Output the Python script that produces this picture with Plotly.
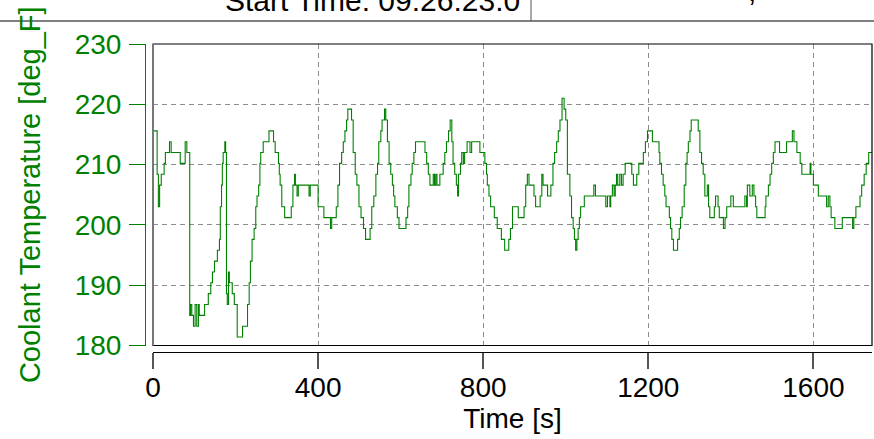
import plotly.graph_objects as go

# ---- data ----
time_s = [0, 10, 13, 16, 20, 27, 30, 40, 44, 66, 78, 82, 89, 91, 94, 98, 102, 106, 110, 112,
          125, 134, 140, 144, 149, 156, 161, 163, 166, 168, 170, 174, 176, 178, 180, 183, 185,
          192, 197, 204, 217, 229, 233, 236, 240, 245, 249, 252, 256, 259, 261, 267, 281, 292,
          296, 304, 306, 308, 312, 319, 335, 339, 343, 345, 349, 352, 378, 381, 400, 414, 430,
          433, 444, 448, 452, 457, 461, 465, 469, 472, 481, 485, 490, 494, 499, 504, 510, 515,
          526, 530, 535, 540, 544, 547, 552, 555, 561, 564, 568, 572, 576, 580, 583, 586, 592,
          596, 613, 617, 620, 625, 628, 632, 636, 659, 663, 667, 671, 679, 682, 685, 688, 695,
          703, 707, 711, 716, 720, 724, 727, 731, 735, 738, 740, 745, 748, 752, 755, 761, 768,
          772, 792, 804, 808, 810, 814, 818, 827, 834, 844, 852, 862, 866, 871, 885, 899, 903,
          907, 911, 923, 927, 938, 942, 945, 956, 964, 969, 973, 978, 982, 986, 991, 996, 1000,
          1004, 1010, 1014, 1018, 1021, 1024, 1027, 1030, 1033, 1036, 1045, 1068, 1072, 1097,
          1101, 1107, 1109, 1113, 1117, 1120, 1123, 1126, 1131, 1135, 1139, 1144, 1160, 1164,
          1172, 1177, 1188, 1193, 1198, 1210, 1226, 1228, 1232, 1236, 1240, 1243, 1251, 1254,
          1257, 1261, 1271, 1275, 1278, 1282, 1287, 1291, 1294, 1297, 1301, 1304, 1321, 1325,
          1329, 1333, 1337, 1343, 1346, 1349, 1360, 1363, 1369, 1372, 1382, 1386, 1390, 1400,
          1406, 1434, 1438, 1440, 1446, 1452, 1456, 1460, 1463, 1483, 1485, 1491, 1495, 1499,
          1503, 1507, 1518, 1535, 1549, 1553, 1560, 1568, 1572, 1592, 1594, 1600, 1612, 1632,
          1636, 1640, 1643, 1652, 1670, 1695, 1698, 1703, 1713, 1717, 1723, 1728, 1734, 1742]

coolant_temp_F = [215.6, 208.4, 203.0, 206.6, 208.4, 210.2, 212.0, 213.8, 212.0, 210.2, 213.8, 212.0,
                  185.0, 186.8, 185.0, 183.2, 186.8, 183.2, 186.8, 185.0, 186.8, 188.6, 190.4, 192.2,
                  194.0, 195.8, 197.6, 203.0, 206.6, 210.2, 212.0, 213.8, 212.0, 188.6, 186.8, 192.2,
                  190.4, 188.6, 186.8, 181.4, 183.2, 186.8, 190.4, 194.0, 197.6, 199.4, 203.0, 204.8,
                  206.6, 210.2, 212.0, 213.8, 215.6, 213.8, 212.0, 210.2, 208.4, 206.6, 203.0, 201.2,
                  203.0, 206.6, 208.4, 206.6, 204.8, 206.6, 204.8, 206.6, 203.0, 201.2, 199.4, 201.2,
                  203.0, 206.6, 210.2, 212.0, 213.8, 215.6, 217.4, 219.2, 217.4, 212.0, 208.4, 206.6,
                  203.0, 201.2, 199.4, 197.6, 199.4, 203.0, 204.8, 208.4, 210.2, 213.8, 215.6, 217.4,
                  219.2, 217.4, 213.8, 210.2, 208.4, 206.6, 204.8, 203.0, 201.2, 199.4, 201.2, 203.0,
                  206.6, 208.4, 210.2, 212.0, 213.8, 212.0, 210.2, 208.4, 206.6, 208.4, 206.6, 208.4,
                  206.6, 208.4, 210.2, 212.0, 213.8, 215.6, 217.4, 213.8, 210.2, 208.4, 206.6, 204.8,
                  208.4, 210.2, 212.0, 210.2, 212.0, 213.8, 212.0, 213.8, 212.0, 210.2, 208.4, 206.6,
                  204.8, 203.0, 201.2, 199.4, 197.6, 195.8, 197.6, 199.4, 203.0, 201.2, 203.0, 206.6,
                  208.4, 206.6, 204.8, 203.0, 204.8, 208.4, 206.6, 204.8, 206.6, 210.2, 212.0, 213.8,
                  215.6, 217.4, 221.0, 219.2, 217.4, 208.4, 204.8, 201.2, 199.4, 197.6, 195.8, 197.6,
                  199.4, 201.2, 203.0, 204.8, 206.6, 204.8, 203.0, 204.8, 203.0, 204.8, 206.6, 204.8,
                  206.6, 208.4, 206.6, 208.4, 206.6, 208.4, 210.2, 208.4, 206.6, 208.4, 210.2, 212.0,
                  213.8, 215.6, 213.8, 212.0, 210.2, 208.4, 206.6, 204.8, 203.0, 201.2, 199.4, 197.6,
                  195.8, 197.6, 199.4, 201.2, 203.0, 206.6, 210.2, 212.0, 213.8, 215.6, 217.4, 215.6,
                  212.0, 210.2, 208.4, 204.8, 206.6, 203.0, 201.2, 203.0, 204.8, 203.0, 201.2, 199.4,
                  201.2, 203.0, 204.8, 203.0, 204.8, 203.0, 206.6, 204.8, 206.6, 204.8, 203.0, 201.2,
                  203.0, 204.8, 206.6, 208.4, 210.2, 212.0, 213.8, 212.0, 213.8, 215.6, 213.8, 212.0,
                  210.2, 208.4, 210.2, 208.4, 206.6, 204.8, 203.0, 204.8, 203.0, 201.2, 199.4, 201.2,
                  199.4, 201.2, 203.0, 204.8, 206.6, 208.4, 210.2, 212.0, 212.0]

x_ticks = [0, 400, 800, 1200, 1600]
y_ticks = [180, 190, 200, 210, 220, 230]
header_text = "Start Time: 09:26:23.0"
x_title = "Time [s]"
y_title = "Coolant Temperature [deg_F]"

# ---- geometry (pixels) ----
W, H = 874, 439
ML, MR, MT, MB = 145, 2, 44, 87
PW, PH = W - ML - MR, H - MT - MB
def px_x(p):
    return (p - ML) / PW
def px_y(p):
    return (H - MB - p) / PH

FONT = "Arial, Liberation Sans, sans-serif"
GREEN = "#008000"

fig = go.Figure()
fig.add_trace(go.Scatter(x=time_s, y=coolant_temp_F, mode="lines", line_shape="hv",
                         line=dict(color=GREEN, width=1.1), showlegend=False))

xd0 = px_x(153)
yd0 = px_y(345.5)

fig.update_layout(
    width=W, height=H,
    margin=dict(l=ML, r=MR, t=MT, b=MB, autoexpand=False),
    paper_bgcolor="white", plot_bgcolor="white",
    font=dict(family=FONT, size=28, color="black"),
    xaxis=dict(domain=[xd0, 1], range=[0, 1742], anchor="free", position=0,
               tickvals=x_ticks, ticks="outside", ticklen=16, tickwidth=1.5, tickcolor="#555",
               showline=True, linecolor="black", linewidth=1.2,
               showgrid=True, gridcolor="#8c8c8c", griddash="5px,4px", gridwidth=1,
               zeroline=False, tickfont=dict(size=28, color="black"), ticklabelstandoff=-6,
               title=dict(text=x_title, font=dict(size=28, color="black"), standoff=6)),
    yaxis=dict(domain=[yd0, 1], range=[180, 230], anchor="free", position=0,
               tickvals=y_ticks, ticks="outside", ticklen=16, tickwidth=1.2, tickcolor=GREEN,
               showline=True, linecolor=GREEN, linewidth=1,
               showgrid=True, gridcolor="#8c8c8c", griddash="5px,4px", gridwidth=1,
               zeroline=False, tickfont=dict(size=28, color=GREEN), ticklabelstandoff=2,
               title=dict(text=y_title, font=dict(size=29, color=GREEN), standoff=24)),
)

shapes = [
    # plot frame
    dict(type="rect", xref="x domain", yref="y domain", x0=0, x1=1, y0=0, y1=1,
         line=dict(color="black", width=1.2), layer="above"),
    dict(type="line", xref="x domain", yref="y domain", x0=0, x1=0, y0=0, y1=1,
         line=dict(color="#777", width=2), layer="above"),
    # header box lines
    dict(type="line", xref="paper", yref="paper", x0=px_x(0), x1=px_x(W), y0=px_y(21), y1=px_y(21),
         line=dict(color="#808080", width=2)),
    dict(type="line", xref="paper", yref="paper", x0=px_x(531), x1=px_x(531), y0=px_y(21), y1=px_y(-2),
         line=dict(color="#555", width=1)),
]
fig.update_layout(shapes=shapes)

fig.add_annotation(text=header_text, xref="paper", yref="paper", x=px_x(372), y=px_y(0),
                   xanchor="center", yanchor="middle", showarrow=False,
                   font=dict(size=30, color="black", family=FONT))
fig.add_annotation(text=",", xref="paper", yref="paper", x=px_x(752), y=px_y(9),
                   xanchor="center", yanchor="bottom", showarrow=False,
                   font=dict(size=30, color="black", family=FONT))

fig.write_html("out.html", config={"displayModeBar": False},
               post_script="document.body.style.margin='0';document.body.style.overflow='hidden';")
